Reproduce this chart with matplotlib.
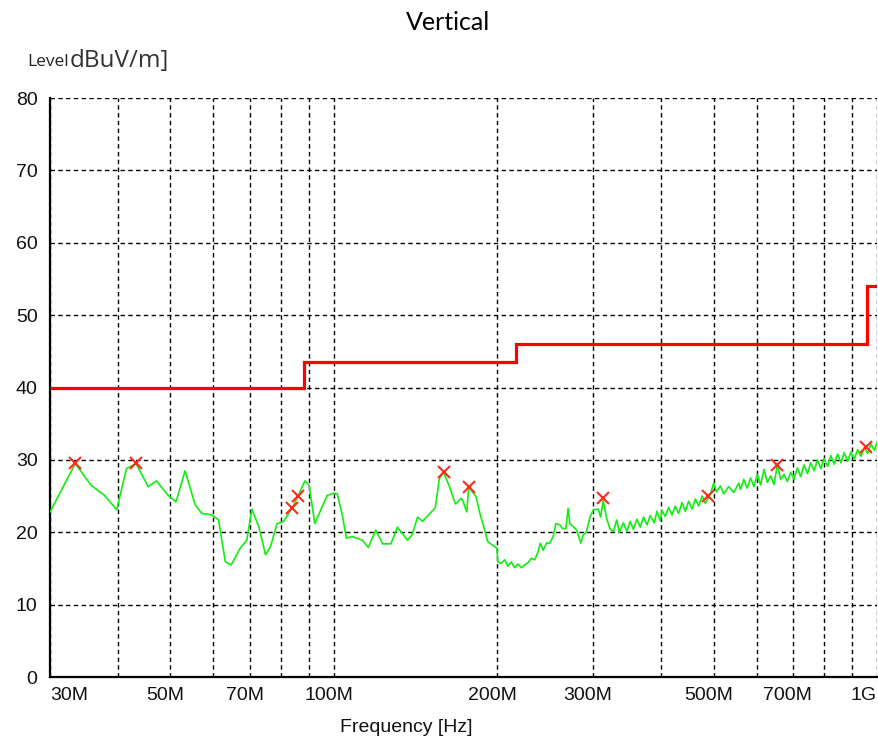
import matplotlib
matplotlib.use("Agg")
import matplotlib.pyplot as plt
from matplotlib.transforms import ScaledTranslation

# ---------------- data (MHz / dBuV/m) ----------------
trace_freq = [
    30.0, 33.4, 35.7, 37.8, 39.8, 41.5, 43.2, 45.5, 47.1, 49.5, 51.2, 53.2,
    55.5, 57.1, 59.6, 61.3, 63.1, 64.7, 67.2, 69.1, 70.6, 72.7, 74.8, 76.4,
    78.6, 80.8, 83.8, 85.9, 88.4, 90.0, 92.2, 97.2, 100.0, 101.4, 103.6, 105.4,
    108.1, 112.8, 115.7, 119.4, 122.9, 127.3, 130.9, 136.6, 139.2, 142.6, 145.6,
    153.7, 156.3, 159.2, 163.2, 167.4, 171.5, 173.0, 175.6, 177.1, 182.7,
    185.4, 188.0, 192.0, 196.1, 199.5, 200.4, 203.3, 206.2, 209.1, 212.2, 215.1,
    218.2, 221.4, 224.5, 227.7, 231.0, 234.3, 237.6, 240.0, 242.7, 246.3, 249.7,
    253.3, 256.2, 260.6, 263.6, 267.3, 269.9, 271.9, 275.7, 279.8, 284.9, 287.7,
    291.9, 296.1, 300.3, 306.7, 309.8, 313.3, 317.8, 322.3, 326.9, 331.7, 335.5,
    341.2, 346.2, 351.1, 356.0, 361.3, 366.4, 371.6, 377.0, 382.3, 388.9, 393.3,
    398.9, 401.8, 407.4, 413.2, 419.3, 425.2, 431.2, 437.5, 443.6, 449.9, 456.4,
    462.9, 469.5, 476.3, 483.0, 493.4, 500.4, 506.2, 514.8, 522.1, 533.3, 544.8,
    556.6, 560.6, 568.5, 576.8, 585.0, 593.3, 602.0, 610.5, 619.2, 628.2, 637.1,
    646.1, 655.5, 664.8, 674.2, 683.9, 693.4, 703.3, 713.6, 723.7, 734.0, 744.7,
    755.1, 765.8, 777.0, 788.0, 799.2, 810.9, 822.2, 833.9, 846.1, 858.1, 870.2,
    882.8, 895.3, 908.0, 921.2, 934.2, 947.4, 961.2, 974.8, 988.6, 1000.0,
]
trace_level = [
    22.8, 29.5, 26.5, 25.1, 23.1, 28.8, 29.5, 26.3, 27.1, 25.1, 24.2, 28.5,
    23.8, 22.6, 22.4, 21.7, 15.9, 15.5, 17.8, 18.9, 23.2, 20.8, 16.9, 18.0,
    21.2, 21.5, 23.4, 25.0, 27.1, 26.5, 21.2, 25.1, 25.4, 25.3, 22.4, 19.2,
    19.4, 18.9, 17.9, 20.3, 18.4, 18.4, 20.7, 18.9, 19.6, 22.1, 21.5,
    23.4, 27.4, 28.3, 26.3, 23.9, 24.7, 24.2, 22.8, 26.3, 24.9,
    22.8, 21.2, 18.7, 18.2, 17.8, 15.9, 15.7, 16.2, 15.3, 15.9, 15.1,
    15.6, 15.1, 15.5, 15.8, 16.4, 16.2, 17.3, 18.5, 17.5, 18.5, 18.5,
    19.4, 21.2, 21.0, 20.5, 20.5, 23.3, 21.2, 20.8, 20.3, 18.5, 19.6,
    20.1, 22.1, 23.1, 23.2, 22.1, 24.4, 21.9, 20.5, 20.1, 21.7, 20.0,
    21.3, 20.1, 21.5, 20.4, 21.8, 20.7, 22.1, 21.0, 22.3, 21.3, 22.9,
    21.6, 23.0, 22.2, 23.4, 22.4, 23.6, 22.6, 24.1, 22.9, 24.3, 23.2,
    24.6, 23.6, 25.0, 24.0, 25.3, 26.8, 25.6, 26.4, 25.3, 26.3, 25.5,
    26.8, 25.9, 27.3, 26.1, 27.5, 26.3, 28.0, 26.5, 28.7, 26.9, 27.8,
    26.6, 29.3, 27.3, 28.0, 27.0, 28.3, 27.3, 28.9, 27.7, 29.3, 28.1,
    29.6, 28.5, 30.0, 28.8, 30.2, 29.1, 30.6, 29.4, 30.8, 29.6, 31.0,
    29.8, 31.1, 30.1, 31.4, 30.5, 31.7, 30.9, 32.2, 31.3, 32.4,
]

peak_freq = [33.4, 43.2, 83.8, 85.9, 159.2, 177.1, 312.6, 487.6, 655.2, 954.0]
peak_level = [29.5, 29.5, 23.4, 25.0, 28.3, 26.3, 24.8, 25.0, 29.3, 31.8]

limit_edges = [30, 88, 216, 960, 1000]
limit_level = [40, 43.5, 46, 54]

grid_freq = [30, 40, 50, 60, 70, 80, 90, 100, 200, 300, 400, 500, 600, 700,
             800, 900, 1000]
grid_labels = ["30M", "", "50M", "", "70M", "", "", "100M", "200M", "300M",
               "", "500M", "", "700M", "", "", "1G"]
y_ticks = [0, 10, 20, 30, 40, 50, 60, 70, 80]

# ---------------- figure ----------------
W, H = 879, 747
fig = plt.figure(figsize=(W / 100, H / 100), dpi=100)
ax = fig.add_axes([50 / W, (H - 677) / H, 827 / W, 579 / H])

ax.set_xscale("log")
ax.set_xlim(30, 1000)
ax.set_ylim(0, 80)
ax.set_axisbelow(True)

ax.stairs(limit_level, limit_edges, baseline=None, color="#ff0000",
          linewidth=2.3, zorder=3)
ax.plot(trace_freq, trace_level, color="#11ee11", linewidth=1.2, zorder=4)
ax.plot(peak_freq, peak_level, linestyle="none", marker="x", color="#ff2a1a",
        markersize=8, markeredgewidth=1.5, zorder=5)

ax.set_xticks(grid_freq)
ax.set_xticklabels(grid_labels)
ax.xaxis.set_minor_locator(matplotlib.ticker.NullLocator())
ax.set_yticks(y_ticks)
ax.set_yticklabels([str(v) for v in y_ticks])

ax.grid(True, which="major", color="black", linestyle=(0, (3.2, 2.4)),
        linewidth=1.0)
for s in ("top", "right"):
    ax.spines[s].set_visible(False)
for s in ("left", "bottom"):
    ax.spines[s].set_linewidth(1.6)
    ax.spines[s].set_color("black")

ax.tick_params(axis="both", length=0, labelsize=14)
ax.tick_params(axis="x", pad=7)
ax.tick_params(axis="y", pad=9)
for lab in ax.get_xticklabels() + ax.get_yticklabels():
    lab.set_fontfamily("Liberation Sans")
    lab.set_color("#111111")

for lab in ax.get_xticklabels():
    t = lab.get_text()
    if t == "30M":
        lab.set_horizontalalignment("left")
    elif t == "1G":
        lab.set_horizontalalignment("right")
    else:
        lab.set_transform(lab.get_transform() +
                          ScaledTranslation(-5 / 100, 0, fig.dpi_scale_trans))

fig.text(448 / W, 1 - 23 / H, "Vertical", ha="center", va="center",
         fontsize=18, family="Lato", color="black")
fig.text(27 / W, 1 - 66 / H, "Level", ha="left", va="baseline",
         fontsize=12.5, family="Open Sans", color="#222222")
fig.text(70 / W, 1 - 67 / H, "dBuV/m]", ha="left", va="baseline",
         fontsize=17.5, family="Open Sans", color="#333333")
fig.text(406 / W, 1 - 727 / H, "Frequency [Hz]", ha="center", va="center",
         fontsize=14, family="Liberation Sans", color="#111111")

fig.savefig("out.png", dpi=100)
